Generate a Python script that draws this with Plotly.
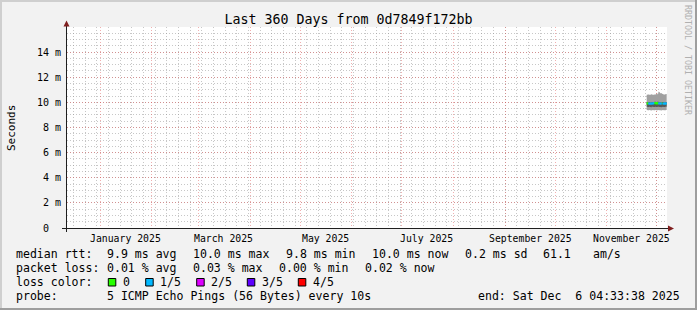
import plotly.graph_objects as go
from datetime import datetime, timedelta

# ---------------- data ----------------
title_text = "Last 360 Days from 0d7849f172bb"
x_range = ["2024-12-12 04:33:38", "2025-12-07 04:33:38"]

month_label_dates = ["2025-01-16", "2025-03-16", "2025-05-16",
                     "2025-07-16", "2025-09-16", "2025-11-16"]
month_labels = ["January 2025", "March 2025", "May 2025",
                "July 2025", "September 2025", "November 2025"]

y_tick_vals = [0, 0.002, 0.004, 0.006, 0.008, 0.010, 0.012, 0.014]
y_tick_text = ["0\u00a0\u00a0", "2 m", "4 m", "6 m", "8 m", "10 m", "12 m", "14 m"]

# 12-hour consolidated steps
step_times = ["2025-11-25 00:00", "2025-11-25 12:00", "2025-11-26 00:00", "2025-11-26 12:00",
              "2025-11-27 00:00", "2025-11-27 12:00", "2025-11-28 00:00", "2025-11-28 12:00",
              "2025-11-29 00:00", "2025-11-29 12:00", "2025-11-30 00:00", "2025-11-30 12:00",
              "2025-12-01 00:00", "2025-12-01 12:00", "2025-12-02 00:00", "2025-12-02 12:00",
              "2025-12-03 00:00", "2025-12-03 12:00", "2025-12-04 00:00", "2025-12-04 12:00",
              "2025-12-05 00:00", "2025-12-05 12:00", "2025-12-06 00:00", "2025-12-06 12:00"]
last_step_end = "2025-12-07 00:00"

# sorted ping times (seconds)
ping1 = [0.00940, 0.00938, 0.00937, 0.00939, 0.00938, 0.00936, 0.00938, 0.00940,
         0.00937, 0.00938, 0.00939, 0.00938, 0.00937, 0.00938, 0.00939, 0.00937,
         0.00938, 0.00936, 0.00938, 0.00939, 0.00938, 0.00937, 0.00938, 0.00940]
ping2 = [0.00965, 0.00964, 0.00963, 0.00966, 0.00964, 0.00962, 0.00965, 0.00966,
         0.00963, 0.00964, 0.00965, 0.00964, 0.00963, 0.00965, 0.00966, 0.00964,
         0.00963, 0.00962, 0.00964, 0.00965, 0.00964, 0.00963, 0.00965, 0.00966]
median = [0.00993, 0.00992, 0.00990, 0.00992, 0.00991, 0.00990, 0.00992, 0.00993,
          0.00991, 0.00994, 0.00995, 0.00993, 0.00992, 0.00996, 0.00993, 0.00992,
          0.00991, 0.00990, 0.00993, 0.00992, 0.00991, 0.00990, 0.00992, 0.00993]
ping4 = [0.01002, 0.01000, 0.01001, 0.01003, 0.01000, 0.01001, 0.01002, 0.01003,
         0.01000, 0.01004, 0.01005, 0.01002, 0.01001, 0.01006, 0.01003, 0.01002,
         0.01001, 0.01000, 0.01003, 0.01002, 0.01001, 0.01000, 0.01002, 0.01003]
ping5 = [0.01060, 0.01062, 0.01063, 0.01060, 0.01061, 0.01064, 0.01062, 0.01060,
         0.01061, 0.01063, 0.01062, 0.01066, 0.01064, 0.01070, 0.01084, 0.01080,
         0.01072, 0.01075, 0.01068, 0.01066, 0.01063, 0.01062, 0.01064, 0.01066]
# loss bucket per step (n/5)
loss_level = [0, 0, 1, 1, 1, 1, 1, 1, 1, 0, 0, 0, 0, 0, 1, 1,
              1, 1, 0, 1, 1, 1, 1, 1]

loss_names = ["0", "1/5", "2/5", "3/5", "4/5"]
loss_colors = ["#26ff00", "#00b8ff", "#dd00ff", "#5e00ff", "#ff0000"]

legend_rows = [
    ["median rtt:", "9.9 ms avg", "10.0 ms max", "9.8 ms min", "10.0 ms now",
     "0.2 ms sd", "61.1", "am/s"],
    ["packet loss:", "0.01 % avg", "0.03 % max", "0.00 % min", "0.02 % now"],
    ["loss color:"],
    ["probe:", "5 ICMP Echo Pings (56 Bytes) every 10s"],
]
end_text = "end: Sat Dec  6 04:33:38 2025"

# ---------------- layout geometry (px) ----------------
W, H = 697, 310
PL, PR, PT, PB = 67, 667, 27, 228
MONO = "DejaVu Sans Mono"

GRID = "rgba(143,143,143,0.5)"
MGRID = "rgba(222,79,79,0.45)"
DASH = "1px,2px"

# grid positions: weekly (Monday) minor, monthly major
week_lines = []
d = datetime(2024, 12, 16)
while d < datetime(2025, 12, 7):
    week_lines.append(d.strftime("%Y-%m-%d"))
    d += timedelta(days=7)
month_lines = ["2025-%02d-01" % m for m in range(1, 13)]
y_minor = [i * 0.0005 for i in range(1, 33)]


def pxx(px):
    return (px - PL) / (PR - PL)


def pxy(py):
    return (PB - py) / (PB - PT)


fig = go.Figure()

# smoke: outer band ping1..ping5, inner band ping2..ping4
xs = step_times + [last_step_end]


def ext(v):
    return v + [v[-1]]


for lo, hi, col in [(ping1, ping5, "#a0a0a0"), (ping2, ping4, "#585858")]:
    fig.add_trace(go.Scatter(x=xs, y=ext(lo), mode="lines", line=dict(width=0, shape="hv"),
                             hoverinfo="skip", showlegend=False))
    fig.add_trace(go.Scatter(x=xs, y=ext(hi), mode="lines", line=dict(width=0, shape="hv"),
                             fill="tonexty", fillcolor=col, hoverinfo="skip", showlegend=False))

# median line coloured by loss
for lvl, col in enumerate(loss_colors):
    mx, my = [], []
    i = 0
    n = len(step_times)
    while i < n:
        if loss_level[i] != lvl:
            i += 1
            continue
        j = i
        while j + 1 < n and loss_level[j + 1] == lvl:
            j += 1
        for k in range(i, j + 1):
            mx.append(step_times[k])
            my.append(median[k])
        mx.append(step_times[j + 1] if j + 1 < n else last_step_end)
        my.append(median[j])
        mx.append(None)
        my.append(None)
        i = j + 1
    if mx:
        fig.add_trace(go.Scatter(x=mx, y=my, mode="lines",
                                 line=dict(color=col, width=2, shape="hv"),
                                 hoverinfo="skip", showlegend=False))

shapes = []
annotations = []

# frame
shapes += [
    dict(type="rect", xref="paper", yref="paper", x0=pxx(0), x1=pxx(W), y0=pxy(0), y1=pxy(2),
         fillcolor="#cfcfcf", line=dict(width=0), layer="below"),
    dict(type="rect", xref="paper", yref="paper", x0=pxx(0), x1=pxx(2), y0=pxy(0), y1=pxy(H),
         fillcolor="#cfcfcf", line=dict(width=0), layer="below"),
    dict(type="rect", xref="paper", yref="paper", x0=pxx(W - 2), x1=pxx(W), y0=pxy(0), y1=pxy(H),
         fillcolor="#9e9e9e", line=dict(width=0), layer="below"),
    dict(type="rect", xref="paper", yref="paper", x0=pxx(0), x1=pxx(W), y0=pxy(H - 2), y1=pxy(H),
         fillcolor="#9e9e9e", line=dict(width=0), layer="below"),
]

# axes lines and arrows
shapes += [
    dict(type="line", xref="paper", yref="paper", x0=pxx(66.5), x1=pxx(66.5), y0=pxy(232), y1=pxy(23),
         line=dict(color="#1f1f1f", width=1)),
    dict(type="line", xref="paper", yref="paper", x0=pxx(62), x1=pxx(669), y0=pxy(228.5), y1=pxy(228.5),
         line=dict(color="#1f1f1f", width=1)),
    dict(type="path", xref="paper", yref="paper",
         path="M %f %f L %f %f L %f %f Z" % (pxx(63.5), pxy(26.5), pxx(69.5), pxy(26.5), pxx(66.5), pxy(20.5)),
         fillcolor="#801f1f", line=dict(width=0)),
    dict(type="path", xref="paper", yref="paper",
         path="M %f %f L %f %f L %f %f Z" % (pxx(668), pxy(225.5), pxx(668), pxy(231.5), pxx(674), pxy(228.5)),
         fillcolor="#801f1f", line=dict(width=0)),
]

# month labels
for dd, t in zip(month_label_dates, month_labels):
    annotations.append(dict(x=dd, xref="x", y=pxy(238), yref="paper", text=t, showarrow=False,
                            xanchor="center", yanchor="middle", borderpad=0, borderwidth=0,
                            font=dict(family=MONO, size=9.8, color="black")))

# y title
annotations.append(dict(x=pxx(11), y=pxy(128), xref="paper", yref="paper", text="Seconds",
                        textangle=-90, showarrow=False, xanchor="center", yanchor="middle",
                        borderpad=0, borderwidth=0, font=dict(family=MONO, size=11, color="black")))
# watermark
annotations.append(dict(x=pxx(688), y=pxy(60), xref="paper", yref="paper",
                        text="RRDTOOL / TOBI OETIKER", textangle=90, showarrow=False,
                        xanchor="center", yanchor="middle", borderpad=0, borderwidth=0,
                        font=dict(family=MONO, size=8.3, color="#b0b0b0")))

# legend text
row_y = [254.3, 268.3, 282, 296]
row_x = [
    [16, 107.3, 193.3, 286, 372.3, 465, 543.3, 593.3],
    [16, 107.3, 193.3, 279.3, 365],
    [16],
    [16, 107.3],
]
LEG = 11.55
for texts, xpos, yy in zip(legend_rows, row_x, row_y):
    for t, xx in zip(texts, xpos):
        annotations.append(dict(x=pxx(xx), y=pxy(yy), xref="paper", yref="paper", text=t,
                                showarrow=False, xanchor="left", yanchor="middle",
                                borderpad=0, borderwidth=0,
                                font=dict(family=MONO, size=LEG, color="black")))
annotations.append(dict(x=pxx(478.3), y=pxy(296), xref="paper", yref="paper",
                        text=end_text.replace(" ", "\u00a0"), showarrow=False,
                        xanchor="left", yanchor="middle", borderpad=0, borderwidth=0,
                        font=dict(family=MONO, size=LEG, color="black")))

# loss colour boxes
box_x = [108.3, 145.7, 196.7, 247.3, 298.3]
lab_x = [123.3, 160, 211, 261.7, 313.3]
for bx, lx, name, col in zip(box_x, lab_x, loss_names, loss_colors):
    shapes.append(dict(type="rect", xref="paper", yref="paper", x0=pxx(bx), x1=pxx(bx + 7.5),
                       y0=pxy(278.5), y1=pxy(286), fillcolor=col, line=dict(color="black", width=1)))
    annotations.append(dict(x=pxx(lx), y=pxy(282), xref="paper", yref="paper", text=name,
                            showarrow=False, xanchor="left", yanchor="middle",
                            borderpad=0, borderwidth=0,
                            font=dict(family=MONO, size=LEG, color="black")))

fig.update_layout(
    width=W, height=H,
    margin=dict(l=PL, r=W - PR, t=PT, b=H - PB, pad=0),
    paper_bgcolor="#f2f2f2", plot_bgcolor="#ffffff",
    showlegend=False,
    title=dict(text=title_text, x=0.5, xref="container", xanchor="center",
               y=1 - 19 / H, yref="container", yanchor="middle",
               font=dict(family=MONO, size=13.3, color="black")),
    xaxis=dict(type="date", range=x_range, showticklabels=False, showline=False, zeroline=False,
               tickmode="array", tickvals=month_lines,
               showgrid=True, gridcolor=MGRID, griddash=DASH, gridwidth=1,
               ticks="",
               minor=dict(tickmode="array", tickvals=week_lines, showgrid=True,
                          gridcolor=GRID, griddash=DASH, gridwidth=1, ticks=""),
               fixedrange=True),
    yaxis=dict(range=[0, 0.016], tickmode="array", tickvals=y_tick_vals, ticktext=y_tick_text,
               showline=False, zeroline=False,
               showgrid=True, gridcolor=MGRID, griddash=DASH, gridwidth=1,
               ticks="", ticklabelstandoff=5,
               tickfont=dict(family=MONO, size=10, color="black"),
               minor=dict(tickmode="array", tickvals=y_minor, showgrid=True,
                          gridcolor=GRID, griddash=DASH, gridwidth=1, ticks=""),
               fixedrange=True),
    shapes=shapes,
    annotations=annotations,
)

fig.write_html("out.html")
